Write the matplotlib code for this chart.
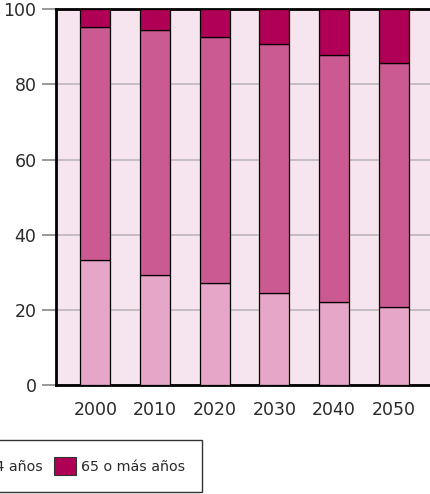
import numpy as np
import matplotlib
matplotlib.use('Agg')
import matplotlib.pyplot as plt
from matplotlib.patches import Patch

years = ['2000', '2010', '2020', '2030', '2040', '2050']
series_names = ['0-14 años', '15-64 años', '65 o más años']
young = [33.3, 29.3, 27.1, 24.5, 22.1, 20.8]
adult = [61.8, 65.1, 65.5, 66.1, 65.7, 64.8]
old = [4.9, 5.6, 7.4, 9.4, 12.2, 14.4]

colors = ['#E6A6C8', '#CC5A92', '#B00055']
plt.rcParams['font.family'] = ['DejaVu Sans']

W, H = 431, 494
fig = plt.figure(figsize=(W / 100, H / 100), dpi=100)
# plot area runs past the right edge of the picture (cropped source)
ax = fig.add_axes([56 / W, (H - 385.3) / H, 377 / W, 376.3 / H])
ax.set_facecolor('#F6E5EE')

x = np.arange(len(years))
bottom = np.zeros(len(years))
for vals, col in zip([young, adult, old], colors):
    ax.bar(x, vals, width=0.5, bottom=bottom, color=col,
           edgecolor='black', linewidth=0.9, zorder=3)
    bottom += np.array(vals)

ax.set_xlim(-0.66, 5.66)
ax.set_ylim(0, 100)
ax.set_yticks([0, 20, 40, 60, 80, 100])
ax.set_xticks(x)
ax.set_xticklabels(years)
ax.grid(True, axis='y', color='#BDB5BA', linewidth=1.2, zorder=0)
ax.set_axisbelow(True)

ax.tick_params(axis='y', length=10, width=1.2, color='#888888',
               labelsize=12.5, pad=4, labelcolor='#2a2a2a')
ax.tick_params(axis='x', length=0, labelsize=12.5, pad=11, labelcolor='#2a2a2a')

for s in ['left', 'bottom', 'top']:
    ax.spines[s].set_linewidth(2)
    ax.spines[s].set_color('black')
ax.spines['right'].set_visible(False)

handles = [Patch(facecolor=c, edgecolor='#333333', linewidth=0.8) for c in colors]
fig.legend(handles, series_names, ncol=3, loc='upper right',
           bbox_to_anchor=(202 / W, 1 - 440 / H), bbox_transform=fig.transFigure,
           borderaxespad=0, frameon=True, fancybox=False, edgecolor='black',
           fontsize=10.3, handlelength=1.55, handleheight=1.55,
           handletextpad=0.3, columnspacing=0.8, borderpad=1.2,
           labelcolor='#2a2a2a')

plt.savefig('out.png', dpi=100)
plt.close()
